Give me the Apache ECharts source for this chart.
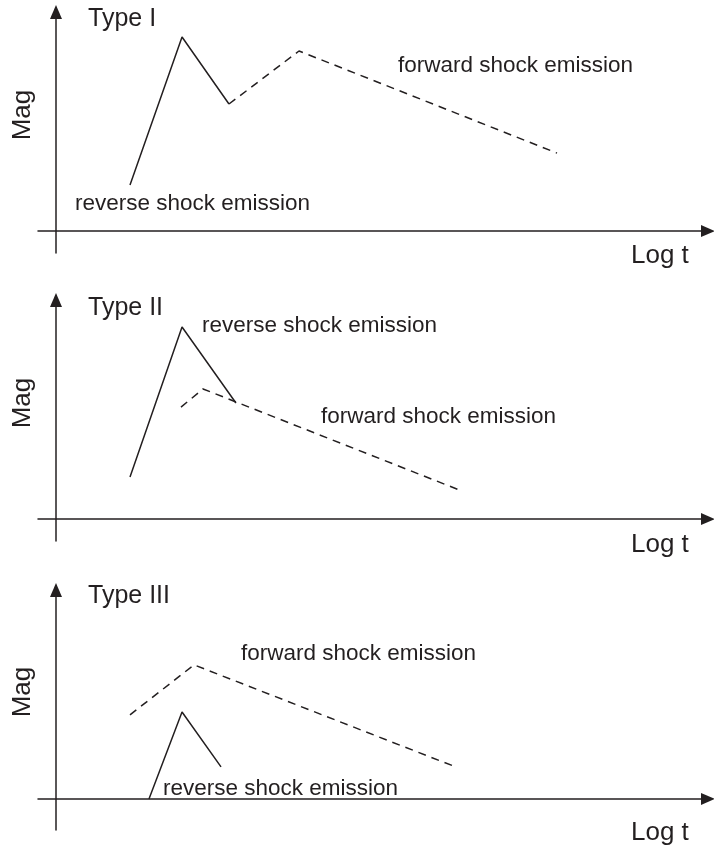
<!DOCTYPE html>
<html>
<head>
<meta charset="utf-8">
<script src="https://cdn.jsdelivr.net/npm/echarts@6/dist/echarts.min.js"></script>
<style>html,body{margin:0;padding:0;background:#fff;}#main{width:714px;height:850px;}</style>
</head>
<body>
<div id="main"></div>
<script>
// Panel titles and labels
const panelTitles = ['Type I', 'Type II', 'Type III'];
const yAxisName = 'Mag';
const xAxisName = 'Log t';

// Type I: reverse shock (solid) and forward shock (dashed), [log t, mag] in arbitrary units
const type1Reverse = [[11.35, 21.0], [19.33, 88.6], [26.53, 58.0]];
const type1Forward = [[26.53, 58.0], [37.27, 82.2], [76.84, 35.6]];
// Type II
const type2Reverse = [[11.35, 19.2], [19.33, 87.7], [27.6, 53.0]];
const type2Forward = [[19.17, 51.1], [22.55, 59.4], [62.27, 12.8]];
// Type III
const type3Reverse = [[14.26, 0], [19.33, 39.7], [25.31, 14.6]];
const type3Forward = [[11.35, 38.4], [21.17, 61.2], [60.89, 15.1]];

// Axis extents per panel
const xRange = [-2.76, 100];
const yRanges = [[-10, 100], [-10, 100], [-14.2, 95.4]];

const ink = '#231f20';
const fontFam = '"Liberation Sans", Arial, sans-serif';

const grids = [
  {left: 38, right: 6, top: 12, height: 241},
  {left: 38, right: 6, top: 300, height: 241},
  {left: 38, right: 6, top: 590, height: 240}
];

const axisLine = {
  show: true, onZero: true,
  symbol: ['none', 'triangle'], symbolSize: [12, 14],
  lineStyle: {color: ink, width: 1.5}
};

const xAxes = [0,1,2].map(i => ({
  type: 'value', gridIndex: i, min: xRange[0], max: xRange[1],
  axisLine: axisLine, axisTick: {show: false}, axisLabel: {show: false}, splitLine: {show: false}
}));
const yAxes = [0,1,2].map(i => ({
  type: 'value', gridIndex: i, min: yRanges[i][0], max: yRanges[i][1],
  axisLine: Object.assign({}, axisLine, {symbol: ['none', 'triangle']}),
  axisTick: {show: false}, axisLabel: {show: false}, splitLine: {show: false}
}));

function line(data, idx, dashed) {
  return {
    type: 'line', xAxisIndex: idx, yAxisIndex: idx, data: data,
    showSymbol: false, symbol: 'none', animation: false, silent: true,
    lineStyle: {color: ink, width: 1.5, type: dashed ? [8, 6] : 'solid'}
  };
}

const series = [
  line(type1Reverse, 0, false), line(type1Forward, 0, true),
  line(type2Reverse, 1, false), line(type2Forward, 1, true),
  line(type3Reverse, 2, false), line(type3Forward, 2, true)
];

function txt(text, x, y, size, extra) {
  return Object.assign({
    type: 'text', x: x, y: y, silent: true,
    style: {text: text, font: size + 'px ' + fontFam, fill: ink, textAlign: 'left', textVerticalAlign: 'middle', verticalAlign: 'middle'}
  }, extra || {});
}

const titleY = [19, 308.5, 596];
const magY = [115, 403, 692];
const logY = [256, 544.5, 832.5];
const graphics = [];
for (let i = 0; i < 3; i++) {
  graphics.push(txt(panelTitles[i], 88, titleY[i], 25));
  graphics.push(txt(logY ? xAxisName : '', 631, logY[i], 26));
  const m = txt(yAxisName, 22.5, magY[i], 26, {rotation: Math.PI / 2});
  m.style.textAlign = 'center';
  graphics.push(m);
}
graphics.push(txt('reverse shock emission', 75, 203.5, 22.5));
graphics.push(txt('forward shock emission', 398, 65.3, 22.5));
graphics.push(txt('reverse shock emission', 202, 326, 22.5));
graphics.push(txt('forward shock emission', 321, 417, 22.5));
graphics.push(txt('forward shock emission', 241, 653.6, 22.5));
graphics.push(txt('reverse shock emission', 163, 788.6, 22.5));

const chart = echarts.init(document.getElementById('main'), null, {renderer: 'canvas'});
chart.setOption({
  animation: false,
  backgroundColor: '#ffffff',
  grid: grids,
  xAxis: xAxes,
  yAxis: yAxes,
  series: series,
  graphic: graphics
});
</script>
</body>
</html>
